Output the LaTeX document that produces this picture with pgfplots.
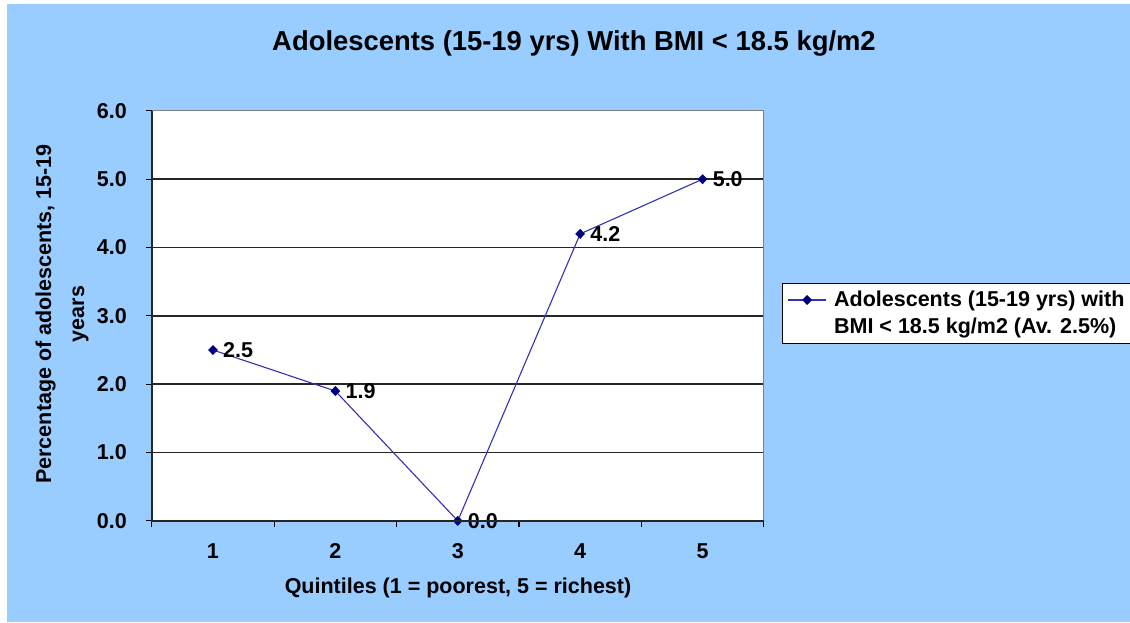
\documentclass[border=0pt]{standalone}
\usepackage{fontspec}
\setmainfont{Liberation Sans}
\usepackage{pgfplots}
\pgfplotsset{compat=1.18}
\definecolor{bgblue}{RGB}{153,204,255}
\definecolor{serline}{RGB}{51,51,175}
\definecolor{sermark}{RGB}{0,0,128}
\newcommand{\lf}{\fontsize{10.75}{13.5}\selectfont\bfseries}
\begin{document}
\begin{tikzpicture}[x=0.5pt,y=0.5pt]
\clip (0,0) rectangle (1130,622);
\fill[white] (0,0) rectangle (1130,622);
\fill[bgblue] (7,0) rectangle (1130,618);
\begin{axis}[
  at={(124,148)}, anchor=south west,
  scale only axis, width=306pt, height=205pt,
  axis background/.style={fill=white},
  clip=false,
  xmin=0.5, xmax=5.5, ymin=0, ymax=6,
  xtick={0.5,1.5,...,5.5}, xticklabels={},
  extra x ticks={1,2,3,4,5}, extra x tick labels={1,2,3,4,5},
  extra x tick style={major tick length=0pt},
  ytick={0,1,...,5}, extra y ticks={6}, extra y tick style={grid=none},
  ymajorgrids=true,
  grid style={black!85, line width=0.75pt},
  tick align=outside, tick pos=left,
  major tick length=3pt,
  tick style={black, line width=0.6pt},
  axis line style={draw=none},
  /pgf/number format/.cd, fixed, fixed zerofill, precision=1, assume math mode=true,
  /pgfplots/.cd,
  ticklabel style={font=\lf, text=black},
  yticklabel shift=6pt,
  xticklabel style={yshift=-8pt},
  legend style={at={(1.029,0.580)}, anchor=north west, draw=black, line width=0.6pt,
    fill=white, font=\lf, cells={align=left}, inner xsep=3pt, inner ysep=1.5pt},
  legend cell align=left,
  legend image code/.code={\path[draw=none] (0pt,0pt) -- (21pt,0pt);
    \draw[#1, overlay, yshift=6.75pt, mark repeat=2, mark phase=2] plot coordinates {(0pt,0pt) (9.5pt,0pt) (19pt,0pt)};},
  after end axis/.code={
    \draw[gray, line width=0.6pt] (rel axis cs:0,1) -- (rel axis cs:1,1) -- (rel axis cs:1,0);
    \draw[black!85, line width=0.75pt] (rel axis cs:0,1) -- (rel axis cs:0,0) -- (rel axis cs:1,0);
  },
]
\addplot[color=serline, line width=0.55pt, mark=diamond*, mark size=2.1pt,
  mark options={fill=sermark, draw=sermark, xscale=1.3},
  nodes near coords={\pgfmathprintnumber[fixed,fixed zerofill,precision=1,assume math mode=true]{\pgfplotspointmeta}},
  every node near coord/.style={anchor=west, font=\lf, text=black, xshift=1.5pt}]
  coordinates {(1,2.5) (2,1.9) (3,0.0) (4,4.2) (5,5.0)};
\addlegendentry{Adolescents (15-19 yrs) with\\BMI < 18.5 kg/m2 (Av. 2.5\%)}
\end{axis}
\node[font=\fontsize{13.7}{16}\selectfont\bfseries] at (574,579) {Adolescents (15-19 yrs) With BMI < 18.5 kg/m2};
\node[font=\lf] at (458,34) {Quintiles (1 = poorest, 5 = richest)};
\node[font=\fontsize{10.75}{16.5}\selectfont\bfseries, rotate=90, align=center] at (62,308) {Percentage of adolescents, 15-19\\years};
\end{tikzpicture}
\end{document}
